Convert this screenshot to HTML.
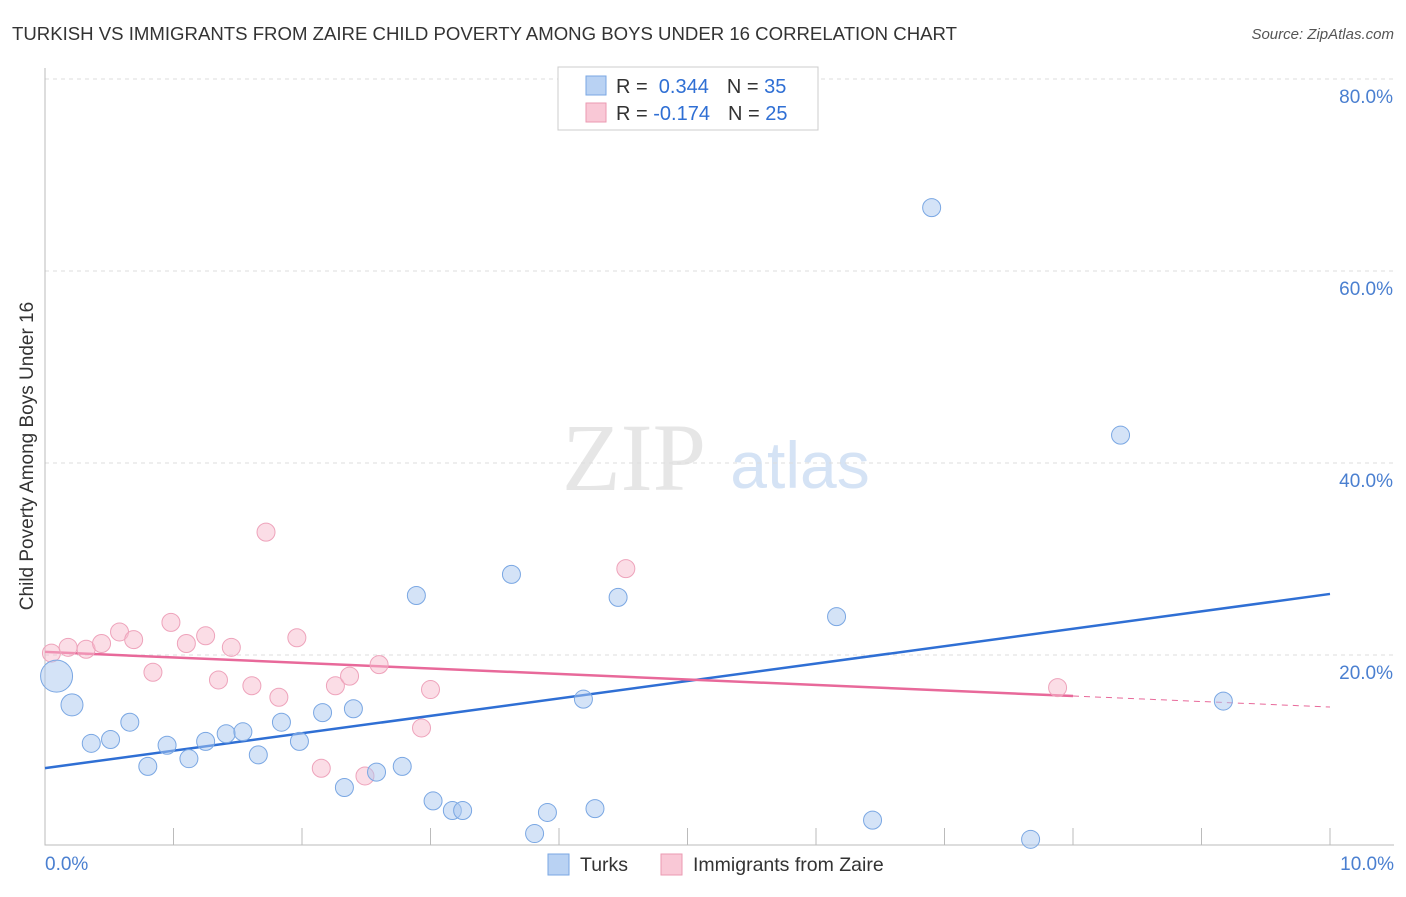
<!DOCTYPE html>
<html><head><meta charset="utf-8"><style>
body{margin:0;background:#fff;font-family:"Liberation Sans",sans-serif}
</style></head><body>
<svg id="c" width="1406" height="892" xmlns="http://www.w3.org/2000/svg" font-family="Liberation Sans, sans-serif">
<text x="12" y="40" font-size="18.6" fill="#333">TURKISH VS IMMIGRANTS FROM ZAIRE CHILD POVERTY AMONG BOYS UNDER 16 CORRELATION CHART</text>
<text x="1394" y="39" font-size="15" fill="#555" text-anchor="end" font-style="italic">Source: ZipAtlas.com</text>
<text x="634" y="490" font-size="96" fill="#e6e6e6" text-anchor="middle" font-family="Liberation Serif, serif">ZIP</text>
<text x="800" y="488" font-size="66" fill="#d5e3f5" text-anchor="middle">atlas</text>
<g id="grid"></g><g id="axes"></g><g id="lines"></g><g id="pts"></g>
<text transform="translate(33,456) rotate(-90)" font-size="19" fill="#333" text-anchor="middle">Child Poverty Among Boys Under 16</text>
<text x="45" y="870" font-size="19" fill="#4a7fd0">0.0%</text>
<text x="1394" y="870" font-size="19" fill="#4a7fd0" text-anchor="end">10.0%</text>
<g>
<rect x="558" y="67" width="260" height="63" fill="#fff" stroke="#ccc"/>
<rect x="586" y="76" width="20" height="19" fill="#b9d2f3" stroke="#7aa7e3"/>
<rect x="586" y="103" width="20" height="19" fill="#f9c8d6" stroke="#eb9ab2"/>
<text x="616" y="93" font-size="20" fill="#333">R = <tspan fill="#2f6fd4">&#160;0.344</tspan><tspan dx="18">N = </tspan><tspan fill="#2f6fd4">35</tspan></text>
<text x="616" y="120" font-size="20" fill="#333">R = <tspan fill="#2f6fd4">-0.174</tspan><tspan dx="18">N = </tspan><tspan fill="#2f6fd4">25</tspan></text>
</g>
<g>
<rect x="548" y="854" width="21" height="21" fill="#b9d2f3" stroke="#7aa7e3"/>
<text x="580" y="871" font-size="19.5" fill="#333">Turks</text>
<rect x="661" y="854" width="21" height="21" fill="#f9c8d6" stroke="#eb9ab2"/>
<text x="693" y="871" font-size="19.5" fill="#333">Immigrants from Zaire</text>
</g>
</svg>
<script>
const yTicks=[20,40,60,80];
const xTicks=[0,1,2,3,4,5,6,7,8,9,10];
const turksX=[0.09,0.21,0.36,0.51,0.66,0.80,0.95,1.12,1.25,1.41,1.54,1.66,1.84,1.98,2.16,2.33,2.40,2.58,2.78,2.89,3.02,3.17,3.25,3.63,3.81,3.91,4.19,4.28,4.46,6.16,6.44,6.90,7.67,8.37,9.17];
const turksY=[17.8,14.8,10.8,11.2,13.0,8.4,10.6,9.2,11.0,11.8,12.0,9.6,13.0,11.0,14.0,6.2,14.4,7.8,8.4,26.2,4.8,3.8,3.8,28.4,1.4,3.6,15.4,4.0,26.0,24.0,2.8,66.6,0.8,42.9,15.2];
const turksR=[16,11,9,9,9,9,9,9,9,9,9,9,9,9,9,9,9,9,9,9,9,9,9,9,9,9,9,9,9,9,9,9,9,9,9];
const zaireX=[0.05,0.18,0.32,0.44,0.58,0.69,0.84,0.98,1.10,1.25,1.35,1.45,1.61,1.72,1.82,1.96,2.15,2.26,2.37,2.49,2.60,2.93,3.00,4.52,7.88];
const zaireY=[20.2,20.8,20.6,21.2,22.4,21.6,18.2,23.4,21.2,22.0,17.4,20.8,16.8,32.8,15.6,21.8,8.2,16.8,17.8,7.4,19.0,12.4,16.4,29.0,16.6];
const blueLine=[8.22,26.36];
const pinkLine=[20.32,14.58];
const pinkSolidEnd=8.0;
const X=v=>45+v*128.5, Y=v=>847-v*9.6;
const NS='http://www.w3.org/2000/svg';
function mk(p,t,a){const e=document.createElementNS(NS,t);for(const k in a)e.setAttribute(k,a[k]);document.getElementById(p).appendChild(e);return e;}
yTicks.forEach(t=>{
 const g=mk('grid','line',{x1:45,x2:1394,y1:Y(t),y2:Y(t),stroke:'#ddd','stroke-dasharray':'4,4'});
 
 
 const l=mk('grid','text',{x:1393,y:Y(t)+24,'font-size':19,fill:'#4a7fd0','text-anchor':'end'});
 l.textContent=t.toFixed(1)+'%';
 
 
});
const ax=mk('axes','path',{d:'M45,68V845H1394',stroke:'#bbb',fill:'none'});


xTicks.forEach(t=>{
 const k=mk('axes','line',{x1:X(t),x2:X(t),y1:828,y2:845,stroke:'#bbb'});
 
 
});
const bl=mk('lines','line',{x1:X(0),y1:Y(blueLine[0]),x2:X(10),y2:Y(blueLine[1]),stroke:'#2f6fd4','stroke-width':2.5});


const pe=pinkLine[0]+(pinkLine[1]-pinkLine[0])*pinkSolidEnd/10;
const pl=mk('lines','line',{x1:X(0),y1:Y(pinkLine[0]),x2:X(pinkSolidEnd),y2:Y(pe),stroke:'#e8699a','stroke-width':2.5});


const pd=mk('lines','line',{x1:X(pinkSolidEnd),y1:Y(pe),x2:X(10),y2:Y(pinkLine[1]),stroke:'#e8699a','stroke-width':1,'stroke-dasharray':'6,5'});


zaireX.forEach((x,i)=>{
 const c=mk('pts','circle',{cx:X(x),cy:Y(zaireY[i]),r:9,fill:'rgba(248,187,206,0.5)',stroke:'#eea3bb','stroke-width':1});
 
 
});
turksX.forEach((x,i)=>{
 const c=mk('pts','circle',{cx:X(x),cy:Y(turksY[i]),r:turksR[i],fill:'rgba(170,200,240,0.5)',stroke:'#7aa7e3','stroke-width':1});
 
 
});
</script>
</body></html>
